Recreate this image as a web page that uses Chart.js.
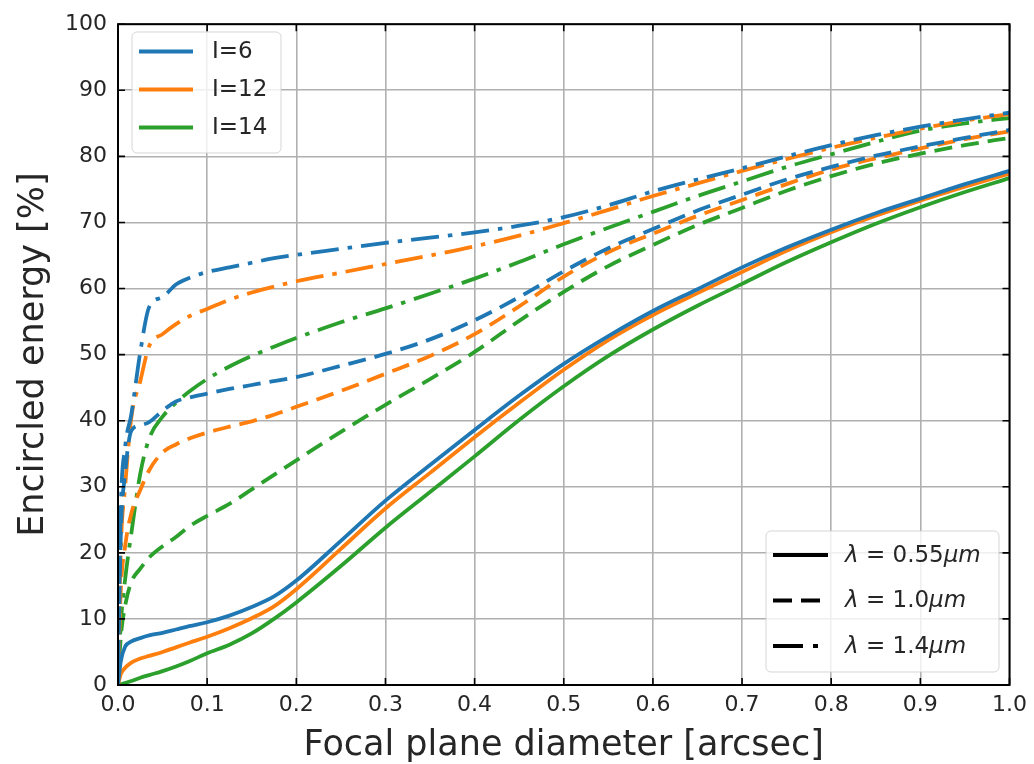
<!DOCTYPE html>
<html>
<head>
<meta charset="utf-8">
<script src="https://cdn.jsdelivr.net/npm/chart.js@4/dist/chart.umd.min.js"></script>
<style>
  html, body { margin: 0; padding: 0; background: #fff; }
  #wrap { width: 1034px; height: 764px; }
</style>
</head>
<body>
<div id="wrap"><canvas id="chart" width="1034" height="764"></canvas></div>
<script>
// sample positions along the focal plane diameter [arcsec]
const diam = [0, 0.003, 0.008, 0.015, 0.025, 0.035, 0.05, 0.065, 0.08, 0.1, 0.125, 0.15, 0.175, 0.2,
              0.25, 0.3, 0.35, 0.4, 0.45, 0.5, 0.55, 0.6, 0.65, 0.7, 0.75, 0.8, 0.85, 0.9, 0.95, 1.0];

// encircled energy [%]
const i6_055  = [0, 3.5, 5.8, 6.6, 7.1, 7.5, 7.9, 8.4, 8.9, 9.5, 10.5, 11.8, 13.4, 15.8,
                 21.8, 27.9, 33.3, 38.6, 43.8, 48.6, 52.8, 56.6, 59.9, 63.2, 66.2, 68.9, 71.4, 73.6, 75.8, 77.8];
const i12_055 = [0, 1.6, 2.6, 3.4, 4.0, 4.4, 5.0, 5.7, 6.4, 7.3, 8.6, 10.1, 11.9, 14.5,
                 20.6, 26.7, 32.1, 37.5, 42.7, 47.7, 52.2, 56.0, 59.3, 62.5, 65.7, 68.5, 71.0, 73.3, 75.4, 77.4];
const i14_055 = [0, 0.1, 0.3, 0.6, 1.1, 1.5, 2.1, 2.8, 3.6, 4.8, 6.1, 7.8, 10.0, 12.5,
                 18.0, 23.8, 29.2, 34.6, 40.1, 45.2, 49.8, 53.8, 57.4, 60.7, 64.0, 67.0, 69.8, 72.3, 74.6, 76.7];

const i6_10   = [0, 22, 32, 38.5, 39.3, 39.8, 41.5, 42.9, 43.5, 44.1, 44.8, 45.4, 46.0, 46.6,
                 48.3, 50.1, 52.3, 55.2, 58.7, 62.6, 66.1, 69.0, 71.8, 74.2, 76.5, 78.4, 80.1, 81.5, 82.8, 84.0];
const i12_10  = [0, 14, 21, 26, 29.5, 32.5, 35.2, 36.4, 37.3, 38.2, 39.1, 39.9, 40.9, 42.1,
                 44.5, 47.1, 49.8, 53.1, 57.3, 61.8, 65.5, 68.3, 71.0, 73.4, 75.8, 78.0, 79.7, 81.2, 82.6, 83.8];
const i14_10  = [0, 7, 12, 15.6, 17.6, 19.3, 21.0, 22.4, 24.0, 25.6, 27.4, 29.6, 31.8, 34.0,
                 38.3, 42.4, 46.3, 50.4, 55.1, 59.5, 63.4, 66.6, 69.6, 72.2, 74.8, 77.0, 78.9, 80.4, 81.7, 82.8];

const i6_14   = [0, 26, 36, 41, 50.4, 57.2, 58.7, 60.6, 61.6, 62.5, 63.2, 63.9, 64.6, 65.1,
                 66.0, 66.9, 67.7, 68.5, 69.5, 70.8, 72.6, 74.7, 76.5, 78.2, 80.0, 81.7, 83.2, 84.5, 85.6, 86.6];
const i12_14  = [0, 20, 30, 40.5, 46, 51.3, 53.1, 54.6, 55.8, 56.9, 58.3, 59.4, 60.3, 61.1,
                 62.4, 63.7, 65.0, 66.4, 68.0, 69.9, 71.9, 74.0, 75.9, 77.8, 79.6, 81.3, 82.8, 84.2, 85.4, 86.4];
const i14_14  = [0, 9, 16, 23, 32, 37.3, 40.6, 42.7, 44.4, 46.3, 48.2, 49.8, 51.2, 52.5,
                 54.9, 57.0, 59.2, 61.5, 64.0, 66.7, 69.2, 71.6, 74.0, 76.2, 78.4, 80.3, 82.2, 83.9, 85.0, 85.8];

const seeingLabels = ['I=6', 'I=12', 'I=14'];
const waveLabels   = ['0.55', '1.0', '1.4'];

const blue = '#1f77b4', orange = '#ff7f0e', green = '#2ca02c';
const DASHED  = [18, 9];
const DASHDOT = [28, 9, 4.5, 9];

const pts = ys => diam.map((x, i) => ({ x, y: ys[i] }));

function line(label, ys, color, dash) {
  return {
    label,
    data: pts(ys),
    borderColor: color,
    backgroundColor: color,
    borderWidth: 3.8,
    borderDash: dash,
    borderCapStyle: 'butt',
    pointRadius: 0,
    cubicInterpolationMode: 'monotone',
    fill: false,
  };
}

const datasets = [
  line('I=6 0.55',  i6_055,  blue,   []),
  line('I=12 0.55', i12_055, orange, []),
  line('I=14 0.55', i14_055, green,  []),
  line('I=6 1.0',   i6_10,   blue,   DASHED),
  line('I=12 1.0',  i12_10,  orange, DASHED),
  line('I=14 1.0',  i14_10,  green,  DASHED),
  line('I=6 1.4',   i6_14,   blue,   DASHDOT),
  line('I=12 1.4',  i12_14,  orange, DASHDOT),
  line('I=14 1.4',  i14_14,  green,  DASHDOT),
];

const FONT = "'DejaVu Sans', sans-serif";

function roundBox(ctx, x, y, w, h, r) {
  ctx.beginPath();
  ctx.moveTo(x + r, y);
  ctx.arcTo(x + w, y, x + w, y + h, r);
  ctx.arcTo(x + w, y + h, x, y + h, r);
  ctx.arcTo(x, y + h, x, y, r);
  ctx.arcTo(x, y, x + w, y, r);
  ctx.closePath();
  ctx.fillStyle = 'rgba(255,255,255,0.8)';
  ctx.fill();
  ctx.strokeStyle = 'rgba(204,204,204,0.8)';
  ctx.lineWidth = 1;
  ctx.stroke();
}

// frame, inward ticks and the two legends (matplotlib look)
const framePlugin = {
  id: 'frame',
  afterDatasetsDraw(chart) {
    const { ctx, chartArea: a, scales: { x, y } } = chart;
    ctx.save();
    ctx.strokeStyle = '#000';
    ctx.lineWidth = 1.6;
    const tl = 7;
    ctx.beginPath();
    x.ticks.forEach(t => {
      const px = x.getPixelForValue(t.value);
      ctx.moveTo(px, a.bottom); ctx.lineTo(px, a.bottom - tl);
      ctx.moveTo(px, a.top);    ctx.lineTo(px, a.top + tl);
    });
    y.ticks.forEach(t => {
      const py = y.getPixelForValue(t.value);
      ctx.moveTo(a.left, py);  ctx.lineTo(a.left + tl, py);
      ctx.moveTo(a.right, py); ctx.lineTo(a.right - tl, py);
    });
    ctx.stroke();
    ctx.lineWidth = 2;
    ctx.strokeRect(a.left, a.top, a.right - a.left, a.bottom - a.top);

    // legend: seeing
    roundBox(ctx, 132, 32, 149, 121, 5);
    const colors = [blue, orange, green];
    ctx.font = '23px ' + FONT;
    ctx.textBaseline = 'middle';
    ctx.textAlign = 'left';
    seeingLabels.forEach((lab, i) => {
      const ly = 51.5 + i * 38;
      ctx.strokeStyle = colors[i];
      ctx.lineWidth = 4;
      ctx.setLineDash([]);
      ctx.beginPath(); ctx.moveTo(139, ly); ctx.lineTo(193, ly); ctx.stroke();
      ctx.fillStyle = '#262626';
      ctx.fillText(lab, 212, ly + 1);
    });

    // legend: wavelength
    roundBox(ctx, 766, 531, 233, 141, 5);
    const dashes = [[], [19, 9], [30, 10, 5, 10]];
    waveLabels.forEach((w, i) => {
      const ly = 555 + i * 45.5;
      ctx.strokeStyle = '#000';
      ctx.lineWidth = 4;
      ctx.setLineDash(dashes[i]);
      ctx.beginPath(); ctx.moveTo(773, ly); ctx.lineTo(828, ly); ctx.stroke();
      ctx.setLineDash([]);
      const parts = [
        { t: 'λ', f: 'italic 23px ' + FONT },
        { t: ' = ', f: '23px ' + FONT },
        { t: w, f: '23px ' + FONT },
        { t: 'μm', f: 'italic 23px ' + FONT },
      ];
      let tx = 845;
      ctx.fillStyle = '#262626';
      parts.forEach(p => {
        ctx.font = p.f;
        ctx.fillText(p.t, tx, ly + 1);
        tx += ctx.measureText(p.t).width;
      });
    });
    ctx.restore();
  },
};

new Chart(document.getElementById('chart'), {
  type: 'line',
  data: { datasets },
  options: {
    responsive: false,
    animation: false,
    layout: { padding: { left: 0, top: 20, right: 21, bottom: 0 } },
    plugins: { legend: { display: false }, tooltip: { enabled: false } },
    scales: {
      x: {
        type: 'linear',
        min: 0, max: 1,
        grid:  { color: '#b0b0b0', lineWidth: 1.6, drawTicks: false },
        border: { display: false },
        ticks: {
          stepSize: 0.1, color: '#262626', padding: 7,
          font: { family: FONT, size: 22 },
          maxRotation: 0,
          callback: v => v.toFixed(1),
        },
        title: {
          display: true, text: 'Focal plane diameter [arcsec]', color: '#262626',
          font: { family: FONT, size: 35 }, padding: { top: 0, bottom: -3 },
        },
        afterFit: s => { s.height = 79; },
      },
      y: {
        min: 0, max: 100,
        grid:  { color: '#b0b0b0', lineWidth: 1.6, drawTicks: false },
        border: { display: false },
        ticks: {
          stepSize: 10, color: '#262626', padding: 11,
          font: { family: FONT, size: 22 },
        },
        title: {
          display: true, text: 'Encircled energy [%]', color: '#262626',
          font: { family: FONT, size: 35 }, padding: { top: 13, bottom: 0 },
        },
        afterFit: s => { s.width = 118; },
      },
    },
  },
  plugins: [framePlugin],
});
</script>
</body>
</html>
